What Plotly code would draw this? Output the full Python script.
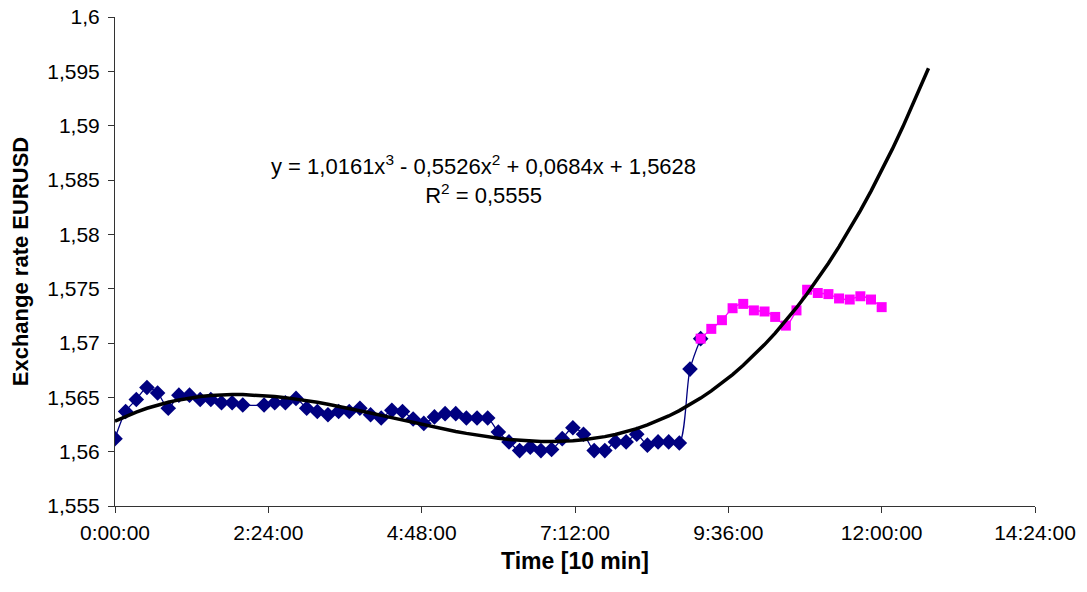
import numpy as np
import plotly.graph_objects as go

# ---- data ----
# blue series: minutes since 0:00:00 and EURUSD rate
blue_minutes = [0, 10, 20, 30, 40, 50, 60, 70, 80, 90, 100, 110, 120,
                140, 150, 160, 170, 180, 190, 200, 210, 220, 230, 240, 250,
                260, 270, 280, 290, 300, 310, 320, 330, 340, 350, 360, 370,
                380, 390, 400, 410, 420, 430, 440, 450, 460, 470, 480, 490,
                500, 510, 520, 530, 540, 550]
blue_rate = [1.5612, 1.5637, 1.5648, 1.5659, 1.5654, 1.5640, 1.5652, 1.5652,
             1.5648, 1.5648, 1.5645, 1.5645, 1.5643,
             1.5643, 1.5645, 1.5645, 1.5649, 1.5640, 1.5637, 1.5634, 1.5637,
             1.5637, 1.5640, 1.5634, 1.5631, 1.5638, 1.5637, 1.5630, 1.5626,
             1.5632, 1.5635, 1.5635, 1.5631, 1.5631, 1.5631, 1.5618, 1.5609,
             1.5601, 1.5604, 1.5601, 1.5602, 1.5612, 1.5622, 1.5616, 1.5601,
             1.5601, 1.5609, 1.5609, 1.5616, 1.5606, 1.5609, 1.5609, 1.5608,
             1.5676, 1.5704]

# magenta series
pink_minutes = [550, 560, 570, 580, 590, 600, 610, 620, 630, 640, 650, 660,
                670, 680, 690, 700, 710, 720]
pink_rate = [1.5704, 1.5713, 1.5721, 1.5732, 1.5736, 1.5730, 1.5729, 1.5724,
             1.5716, 1.5730, 1.5749, 1.5746, 1.5745, 1.5741, 1.5740, 1.5743,
             1.5740, 1.5733]

# polynomial trend line as printed on the chart (x in days)
trend_coeffs = [1.0161, -0.5526, 0.0684, 1.5628]
trend_end_minutes = 764

# axis ticks
x_tick_days = [0, 0.1, 0.2, 0.3, 0.4, 0.5, 0.6]
x_tick_text = ["0:00:00", "2:24:00", "4:48:00", "7:12:00", "9:36:00",
               "12:00:00", "14:24:00"]
y_tick_vals = [1.555, 1.56, 1.565, 1.57, 1.575, 1.58, 1.585, 1.59, 1.595, 1.6]
y_tick_text = ["1,555", "1,56", "1,565", "1,57", "1,575", "1,58", "1,585",
               "1,59", "1,595", "1,6"]

eq_text = ("y = 1,0161x<sup>3</sup> - 0,5526x<sup>2</sup> + 0,0684x + 1,5628"
           "<br>R<sup>2</sup> = 0,5555")

# ---- build ----
MIN_PER_DAY = 1440.0
bx = [m / MIN_PER_DAY for m in blue_minutes]
px_ = [m / MIN_PER_DAY for m in pink_minutes]
tmin = list(range(0, trend_end_minutes, 10)) + [trend_end_minutes]
tx = np.array(tmin) / MIN_PER_DAY
ty = np.polyval(trend_coeffs, tx)

FONT = "Arial, Liberation Sans, sans-serif"

fig = go.Figure()
fig.add_trace(go.Scatter(
    x=bx, y=blue_rate, mode="lines+markers",
    line=dict(color="#000080", width=1.3, shape="spline", smoothing=0.8),
    marker=dict(symbol="diamond", size=12, color="#000080"),
    showlegend=False))
fig.add_trace(go.Scatter(
    x=px_, y=pink_rate, mode="lines+markers",
    line=dict(color="#FF00FF", width=1.3, shape="spline", smoothing=0.8),
    marker=dict(symbol="square", size=10, color="#FF00FF"),
    showlegend=False))
fig.add_trace(go.Scatter(
    x=tx, y=ty, mode="lines",
    line=dict(color="black", width=3.5),
    showlegend=False))

fig.add_annotation(
    x=0.401, y=0.668, xref="paper", yref="paper",
    text=eq_text, showarrow=False, xanchor="center", yanchor="middle",
    align="center", font=dict(family=FONT, size=22, color="black"))

fig.update_layout(
    width=1087, height=592,
    margin=dict(l=115, r=52, t=17, b=86),
    paper_bgcolor="white", plot_bgcolor="white",
    font=dict(family=FONT, color="black"),
    xaxis=dict(
        range=[0, 0.6], tickvals=x_tick_days, ticktext=x_tick_text,
        automargin=False, ticklabeloverflow="allow",
        showgrid=False, zeroline=False, showline=True, linecolor="#333333",
        linewidth=1, ticks="outside", ticklen=6, tickcolor="#333333",
        tickfont=dict(family=FONT, size=21), ticklabelstandoff=2,
        title=dict(text="<b>Time [10 min]</b>", standoff=9,
                   font=dict(family=FONT, size=23))),
    yaxis=dict(
        range=[1.555, 1.6], tickvals=y_tick_vals, ticktext=y_tick_text,
        automargin=False, ticklabeloverflow="allow",
        showgrid=False, zeroline=False, showline=True, linecolor="#333333",
        linewidth=1, ticks="outside", ticklen=6, tickcolor="#333333",
        tickfont=dict(family=FONT, size=21), ticklabelstandoff=4,
        title=dict(text="<b>Exchange rate EURUSD</b>", standoff=12,
                   font=dict(family=FONT, size=22))),
)

# remove the default page margin so the figure sits at the window's corner
fig.write_html("out.html",
               config={"displayModeBar": False},
               post_script="document.body.style.margin='0';")
